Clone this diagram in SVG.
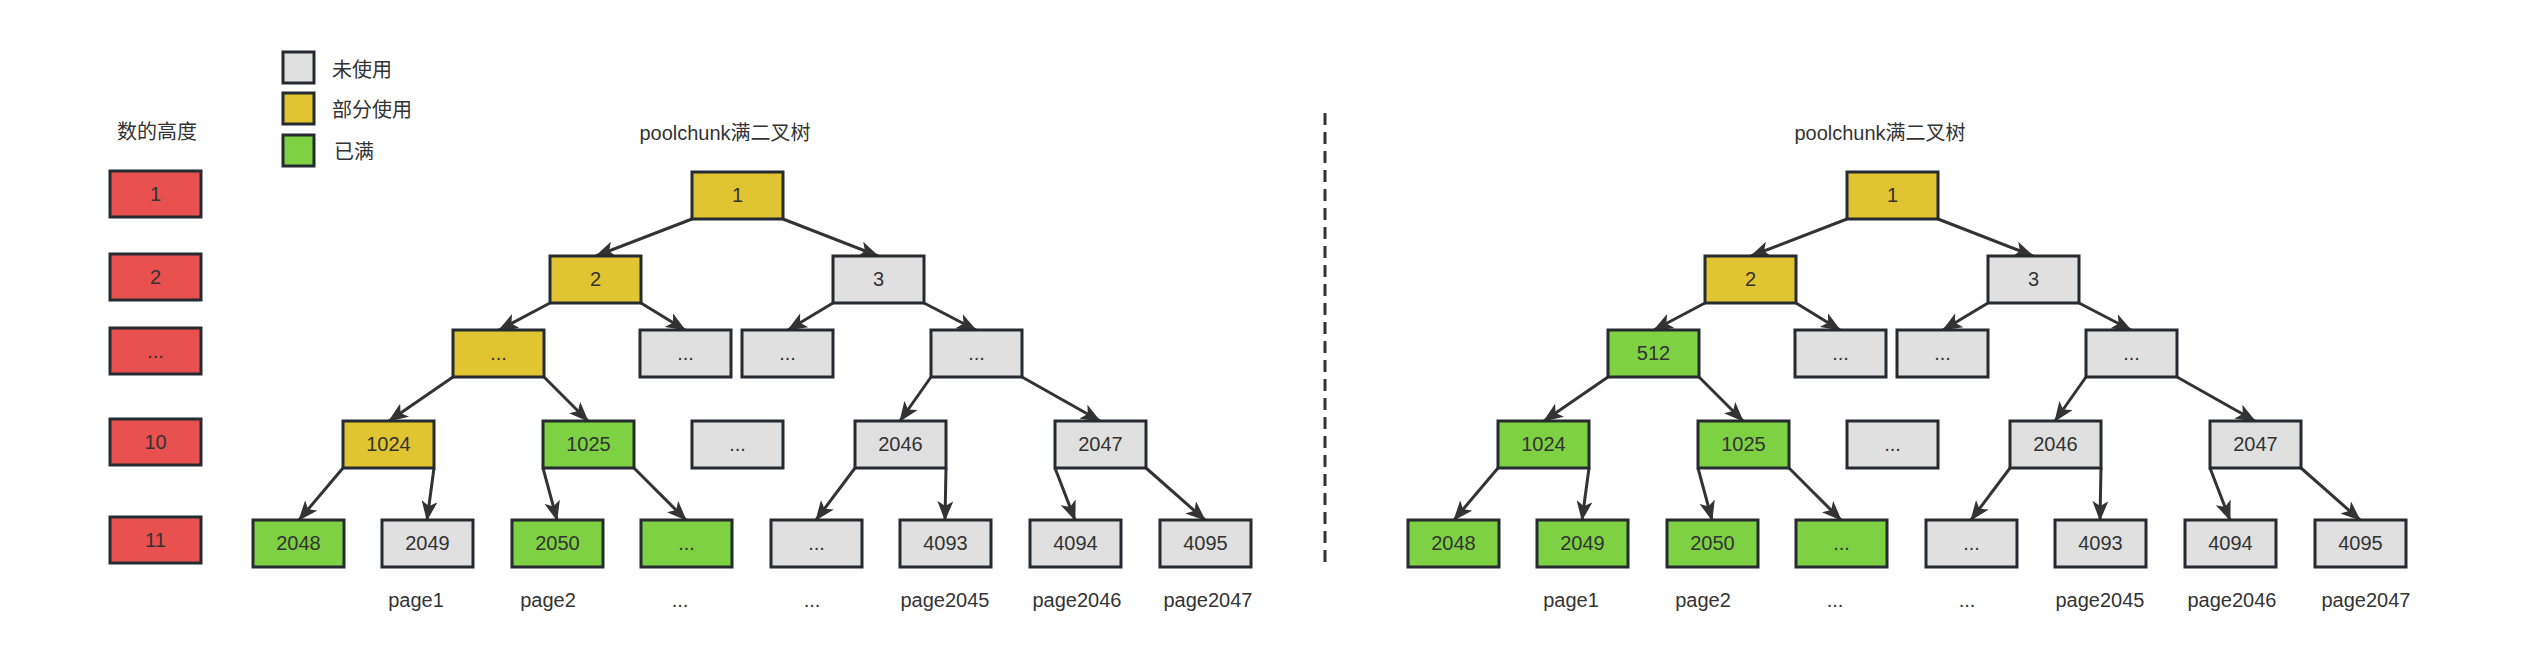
<svg xmlns="http://www.w3.org/2000/svg" width="2522" height="664" viewBox="0 0 2522 664">
<style>
text{font-family:"Liberation Sans","Noto Sans CJK SC",sans-serif;font-size:20px;fill:#333333}
.c{text-anchor:middle}
.box{stroke:#262b31;stroke-width:3}
.red{fill:#e85150}
.yel{fill:#e0c431}
.grn{fill:#7dd143}
.gry{fill:#e0e0e0}
.edge{stroke:#333333;stroke-width:3;fill:none;marker-end:url(#ah)}
</style>
<defs>
<marker id="ah" markerUnits="userSpaceOnUse" viewBox="0 0 20 16" markerWidth="20" markerHeight="16" refX="19" refY="8" orient="auto">
<path d="M0,0 L20,8 L0,16 L5,8 Z" fill="#333333"/>
</marker>
</defs>
<rect width="2522" height="664" fill="#ffffff"/>

<g id="legend">
<rect class="box gry" x="283" y="52" width="31" height="31"/>
<text x="332" y="77">未使用</text>
<rect class="box yel" x="283" y="93" width="31" height="31"/>
<text x="332" y="117">部分使用</text>
<rect class="box grn" x="283" y="135" width="31" height="31"/>
<text x="334" y="159">已满</text>
</g>

<g id="heights">
<text class="c" x="157" y="139">数的高度</text>
<g id="h1"><rect class="box red" x="110" y="171" width="91" height="46"/><text class="c" x="155.5" y="201">1</text></g>
<g id="h2"><rect class="box red" x="110" y="254" width="91" height="46"/><text class="c" x="155.5" y="284">2</text></g>
<g id="h3"><rect class="box red" x="110" y="328" width="91" height="46"/><text class="c" x="155.5" y="358">...</text></g>
<g id="h10"><rect class="box red" x="110" y="419" width="91" height="46"/><text class="c" x="155.5" y="449">10</text></g>
<g id="h11"><rect class="box red" x="110" y="517" width="91" height="46"/><text class="c" x="155.5" y="547">11</text></g>
</g>

<g id="divider"><line x1="1325" y1="113" x2="1325" y2="567" stroke="#333333" stroke-width="3" stroke-dasharray="12 7"/></g>

<g id="titles">
<text class="c" x="725" y="140">poolchunk满二叉树</text>
<text class="c" x="1880" y="140">poolchunk满二叉树</text>
</g>

<g id="connectors">
<!-- left tree -->
<line class="edge" x1="692" y1="219" x2="596" y2="256"/>
<line class="edge" x1="783" y1="219" x2="878" y2="256"/>
<line class="edge" x1="550" y1="303" x2="499" y2="330"/>
<line class="edge" x1="641" y1="303" x2="685" y2="330"/>
<line class="edge" x1="833" y1="303" x2="788" y2="330"/>
<line class="edge" x1="924" y1="303" x2="976" y2="330"/>
<line class="edge" x1="453" y1="377" x2="389" y2="421"/>
<line class="edge" x1="544" y1="377" x2="588" y2="421"/>
<line class="edge" x1="931" y1="377" x2="900" y2="421"/>
<line class="edge" x1="1022" y1="377" x2="1100" y2="421"/>
<line class="edge" x1="343" y1="468" x2="299" y2="520"/>
<line class="edge" x1="434" y1="468" x2="427" y2="520"/>
<line class="edge" x1="543" y1="468" x2="557" y2="520"/>
<line class="edge" x1="634" y1="468" x2="686" y2="520"/>
<line class="edge" x1="855" y1="468" x2="816" y2="520"/>
<line class="edge" x1="946" y1="468" x2="945" y2="520"/>
<line class="edge" x1="1055" y1="468" x2="1075" y2="520"/>
<line class="edge" x1="1146" y1="468" x2="1205" y2="520"/>
<!-- right tree (+1155) -->
<line class="edge" x1="1847" y1="219" x2="1751" y2="256"/>
<line class="edge" x1="1938" y1="219" x2="2033" y2="256"/>
<line class="edge" x1="1705" y1="303" x2="1654" y2="330"/>
<line class="edge" x1="1796" y1="303" x2="1840" y2="330"/>
<line class="edge" x1="1988" y1="303" x2="1943" y2="330"/>
<line class="edge" x1="2079" y1="303" x2="2131" y2="330"/>
<line class="edge" x1="1608" y1="377" x2="1544" y2="421"/>
<line class="edge" x1="1699" y1="377" x2="1743" y2="421"/>
<line class="edge" x1="2086" y1="377" x2="2055" y2="421"/>
<line class="edge" x1="2177" y1="377" x2="2255" y2="421"/>
<line class="edge" x1="1498" y1="468" x2="1454" y2="520"/>
<line class="edge" x1="1589" y1="468" x2="1582" y2="520"/>
<line class="edge" x1="1698" y1="468" x2="1712" y2="520"/>
<line class="edge" x1="1789" y1="468" x2="1841" y2="520"/>
<line class="edge" x1="2010" y1="468" x2="1971" y2="520"/>
<line class="edge" x1="2101" y1="468" x2="2100" y2="520"/>
<line class="edge" x1="2210" y1="468" x2="2230" y2="520"/>
<line class="edge" x1="2301" y1="468" x2="2360" y2="520"/>
</g>

<g id="leftTree">
<g id="L_n1"><rect class="box yel" x="692" y="172" width="91" height="47"/><text class="c" x="737.5" y="202">1</text></g>
<g id="L_n2"><rect class="box yel" x="550" y="256" width="91" height="47"/><text class="c" x="595.5" y="286">2</text></g>
<g id="L_n3"><rect class="box gry" x="833" y="256" width="91" height="47"/><text class="c" x="878.5" y="286">3</text></g>
<g id="L_n4"><rect class="box yel" x="453" y="330" width="91" height="47"/><text class="c" x="498.5" y="360">...</text></g>
<g id="L_n5"><rect class="box gry" x="640" y="330" width="91" height="47"/><text class="c" x="685.5" y="360">...</text></g>
<g id="L_n6"><rect class="box gry" x="742" y="330" width="91" height="47"/><text class="c" x="787.5" y="360">...</text></g>
<g id="L_n7"><rect class="box gry" x="931" y="330" width="91" height="47"/><text class="c" x="976.5" y="360">...</text></g>
<g id="L_n1024"><rect class="box yel" x="343" y="421" width="91" height="47"/><text class="c" x="388.5" y="451">1024</text></g>
<g id="L_n1025"><rect class="box grn" x="543" y="421" width="91" height="47"/><text class="c" x="588.5" y="451">1025</text></g>
<g id="L_nmid"><rect class="box gry" x="692" y="421" width="91" height="47"/><text class="c" x="737.5" y="451">...</text></g>
<g id="L_n2046"><rect class="box gry" x="855" y="421" width="91" height="47"/><text class="c" x="900.5" y="451">2046</text></g>
<g id="L_n2047"><rect class="box gry" x="1055" y="421" width="91" height="47"/><text class="c" x="1100.5" y="451">2047</text></g>
<g id="L_n2048"><rect class="box grn" x="253" y="520" width="91" height="47"/><text class="c" x="298.5" y="550">2048</text></g>
<g id="L_n2049"><rect class="box gry" x="382" y="520" width="91" height="47"/><text class="c" x="427.5" y="550">2049</text></g>
<g id="L_n2050"><rect class="box grn" x="512" y="520" width="91" height="47"/><text class="c" x="557.5" y="550">2050</text></g>
<g id="L_nl4"><rect class="box grn" x="641" y="520" width="91" height="47"/><text class="c" x="686.5" y="550">...</text></g>
<g id="L_nl5"><rect class="box gry" x="771" y="520" width="91" height="47"/><text class="c" x="816.5" y="550">...</text></g>
<g id="L_n4093"><rect class="box gry" x="900" y="520" width="91" height="47"/><text class="c" x="945.5" y="550">4093</text></g>
<g id="L_n4094"><rect class="box gry" x="1030" y="520" width="91" height="47"/><text class="c" x="1075.5" y="550">4094</text></g>
<g id="L_n4095"><rect class="box gry" x="1160" y="520" width="91" height="47"/><text class="c" x="1205.5" y="550">4095</text></g>
<g id="L_pages">
<text class="c" x="416" y="607">page1</text>
<text class="c" x="548" y="607">page2</text>
<text class="c" x="680" y="607">...</text>
<text class="c" x="812" y="607">...</text>
<text class="c" x="945" y="607">page2045</text>
<text class="c" x="1077" y="607">page2046</text>
<text class="c" x="1208" y="607">page2047</text>
</g>
</g>

<g id="rightTree">
<g id="R_n1"><rect class="box yel" x="1847" y="172" width="91" height="47"/><text class="c" x="1892.5" y="202">1</text></g>
<g id="R_n2"><rect class="box yel" x="1705" y="256" width="91" height="47"/><text class="c" x="1750.5" y="286">2</text></g>
<g id="R_n3"><rect class="box gry" x="1988" y="256" width="91" height="47"/><text class="c" x="2033.5" y="286">3</text></g>
<g id="R_n512"><rect class="box grn" x="1608" y="330" width="91" height="47"/><text class="c" x="1653.5" y="360">512</text></g>
<g id="R_n5"><rect class="box gry" x="1795" y="330" width="91" height="47"/><text class="c" x="1840.5" y="360">...</text></g>
<g id="R_n6"><rect class="box gry" x="1897" y="330" width="91" height="47"/><text class="c" x="1942.5" y="360">...</text></g>
<g id="R_n7"><rect class="box gry" x="2086" y="330" width="91" height="47"/><text class="c" x="2131.5" y="360">...</text></g>
<g id="R_n1024"><rect class="box grn" x="1498" y="421" width="91" height="47"/><text class="c" x="1543.5" y="451">1024</text></g>
<g id="R_n1025"><rect class="box grn" x="1698" y="421" width="91" height="47"/><text class="c" x="1743.5" y="451">1025</text></g>
<g id="R_nmid"><rect class="box gry" x="1847" y="421" width="91" height="47"/><text class="c" x="1892.5" y="451">...</text></g>
<g id="R_n2046"><rect class="box gry" x="2010" y="421" width="91" height="47"/><text class="c" x="2055.5" y="451">2046</text></g>
<g id="R_n2047"><rect class="box gry" x="2210" y="421" width="91" height="47"/><text class="c" x="2255.5" y="451">2047</text></g>
<g id="R_n2048"><rect class="box grn" x="1408" y="520" width="91" height="47"/><text class="c" x="1453.5" y="550">2048</text></g>
<g id="R_n2049"><rect class="box grn" x="1537" y="520" width="91" height="47"/><text class="c" x="1582.5" y="550">2049</text></g>
<g id="R_n2050"><rect class="box grn" x="1667" y="520" width="91" height="47"/><text class="c" x="1712.5" y="550">2050</text></g>
<g id="R_nl4"><rect class="box grn" x="1796" y="520" width="91" height="47"/><text class="c" x="1841.5" y="550">...</text></g>
<g id="R_nl5"><rect class="box gry" x="1926" y="520" width="91" height="47"/><text class="c" x="1971.5" y="550">...</text></g>
<g id="R_n4093"><rect class="box gry" x="2055" y="520" width="91" height="47"/><text class="c" x="2100.5" y="550">4093</text></g>
<g id="R_n4094"><rect class="box gry" x="2185" y="520" width="91" height="47"/><text class="c" x="2230.5" y="550">4094</text></g>
<g id="R_n4095"><rect class="box gry" x="2315" y="520" width="91" height="47"/><text class="c" x="2360.5" y="550">4095</text></g>
<g id="R_pages">
<text class="c" x="1571" y="607">page1</text>
<text class="c" x="1703" y="607">page2</text>
<text class="c" x="1835" y="607">...</text>
<text class="c" x="1967" y="607">...</text>
<text class="c" x="2100" y="607">page2045</text>
<text class="c" x="2232" y="607">page2046</text>
<text class="c" x="2366" y="607">page2047</text>
</g>
</g>
</svg>
